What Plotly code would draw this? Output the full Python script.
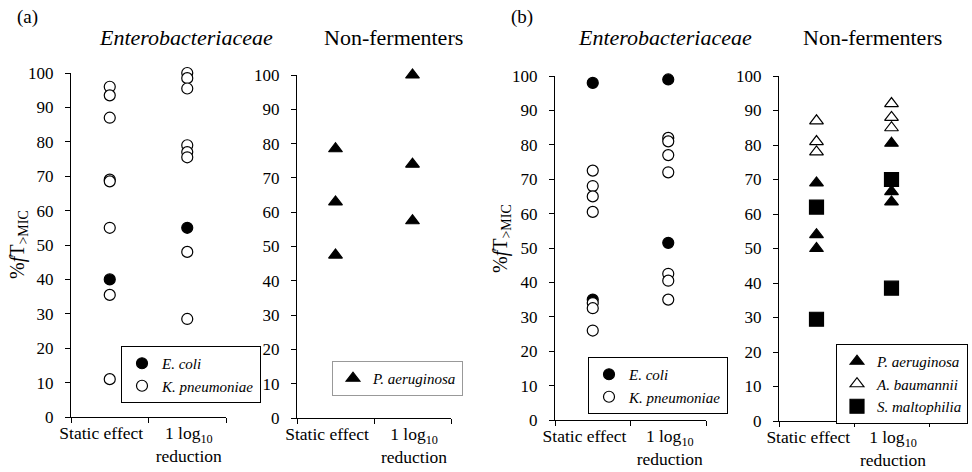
import plotly.graph_objects as go

categories = ["Static effect", "1 log<sub>10</sub><br>reduction"]
cat_pos = [0.5, 1.5]

# Panel (a) Enterobacteriaceae
a_ecoli_static = [40]
a_ecoli_1log = [55]
a_kpn_static = [96, 93.5, 87, 69, 68.5, 55, 35.5, 11]
a_kpn_1log = [100, 98.5, 95.5, 79, 77, 75.5, 48, 28.5]
# Panel (a) Non-fermenters
a_pae_static = [78.5, 63, 47.5]
a_pae_1log = [100, 74, 57.5]
# Panel (b) Enterobacteriaceae
b_ecoli_static = [98, 35]
b_ecoli_1log = [99, 51.5]
b_kpn_static = [72.5, 68, 65, 60.5, 34, 32.5, 26]
b_kpn_1log = [82, 81, 77, 72, 42.5, 40.5, 35]
# Panel (b) Non-fermenters
b_pae_static = [69, 54, 50]
b_pae_1log = [80.5, 66.5, 63.5]
b_aba_static = [87, 81, 78]
b_aba_1log = [92, 88, 85]
b_sma_static = [62, 29.5]
b_sma_1log = [70, 38.5]

y_ticks = list(range(0, 101, 10))
FONT = "Liberation Serif"
label_pos = [0.39, 1.52]

fig = go.Figure()

def pts(static, onelog):
    return [cat_pos[0]] * len(static) + [cat_pos[1]] * len(onelog), static + onelog

def add(static, onelog, name, symbol, size, xa, ya, legend, filled=True):
    x, y = pts(static, onelog)
    fig.add_trace(go.Scatter(
        x=x, y=y, mode="markers", name=name, xaxis=xa, yaxis=ya, legend=legend,
        cliponaxis=False,
        marker=dict(symbol=symbol, size=size, color="black" if filled else "white",
                    line=dict(color="black", width=1.2)),
    ))

add(a_ecoli_static, a_ecoli_1log, "<i>E. coli</i>", "circle", 11, "x", "y", "legend")
add(a_kpn_static, a_kpn_1log, "<i>K. pneumoniae</i>", "circle", 11, "x", "y", "legend", filled=False)
add(a_pae_static, a_pae_1log, "<i>P. aeruginosa</i>", "triangle-up", 12, "x2", "y2", "legend2")
add(b_ecoli_static, b_ecoli_1log, "<i>E. coli</i>", "circle", 11, "x3", "y3", "legend3")
add(b_kpn_static, b_kpn_1log, "<i>K. pneumoniae</i>", "circle", 11, "x3", "y3", "legend3", filled=False)
add(b_pae_static, b_pae_1log, "<i>P. aeruginosa</i>", "triangle-up", 12, "x4", "y4", "legend4")
add(b_aba_static, b_aba_1log, "<i>A. baumannii</i>", "triangle-up", 12, "x4", "y4", "legend4", filled=False)
add(b_sma_static, b_sma_1log, "<i>S. maltophilia</i>", "square", 14, "x4", "y4", "legend4")

domains = [
    ((71, 226), (417, 73)),
    ((297, 451), (418, 75)),
    ((555, 706), (420, 76)),
    ((779, 929), (421, 76)),
]
W, H = 972, 472
layout = dict(
    template="none",
    width=W, height=H, margin=dict(l=0, r=0, t=0, b=0, pad=0, autoexpand=False),
    paper_bgcolor="white", plot_bgcolor="white",
    font=dict(family=FONT, color="black", size=16),
)
for i, ((x0, x1), (yb, yt)) in enumerate(domains):
    sfx = "" if i == 0 else str(i + 1)
    layout["xaxis" + sfx] = dict(
        domain=[x0 / W, x1 / W], range=[0, 2], anchor="y" + sfx, automargin=False,
        showgrid=False, zeroline=False, showline=True, linecolor="black", linewidth=1,
        tickvals=label_pos, ticktext=categories, ticks="", tickangle=0,
        ticklabelstandoff=0,
        tickfont=dict(size=17.5, family=FONT, color="black"),
        minor=dict(tickvals=[0, 1, 2], ticks="outside", ticklen=5, tickcolor="black",
                   showgrid=False),
        fixedrange=True,
    )
    layout["yaxis" + sfx] = dict(
        domain=[(H - yb) / H, (H - yt) / H], range=[0, 100], anchor="x" + sfx,
        automargin=False,
        showgrid=False, zeroline=False, showline=True, linecolor="black", linewidth=1,
        tickvals=y_ticks, ticks="outside", ticklen=5, tickcolor="black",
        ticklabelstandoff=8,
        tickfont=dict(size=17, family=FONT, color="black"), fixedrange=True,
    )

leg_common = dict(bgcolor="white", borderwidth=1, font=dict(size=15, family=FONT, color="black"),
                  xanchor="left", yanchor="top", itemwidth=30, tracegroupgap=0)
layout["legend"] = dict(x=121 / W, y=(H - 346) / H, bordercolor="black", **leg_common)
layout["legend2"] = dict(x=332 / W, y=(H - 361) / H, bordercolor="#999999", **leg_common)
layout["legend3"] = dict(x=588 / W, y=(H - 357) / H, bordercolor="black", **leg_common)
layout["legend4"] = dict(x=836 / W, y=(H - 344) / H, bordercolor="black", **leg_common)

ann = []
def text(x, y, s, size=19, angle=0):
    ann.append(dict(x=x / W, y=(H - y) / H, xref="paper", yref="paper", text=s,
                    showarrow=False, font=dict(size=size, family=FONT, color="black"),
                    textangle=angle, xanchor="center", yanchor="middle"))

text(27, 17, "(a)", 19)
text(522, 17, "(b)", 19)
text(186, 37, "<i>Enterobacteriaceae</i>", 22)
text(393, 37, "Non-fermenters", 22)
text(665, 37, "<i>Enterobacteriaceae</i>", 22)
text(872, 37, "Non-fermenters", 22)
text(18, 245, "%<i>f</i>T<sub>>MIC</sub>", 20, -90)
text(501, 238, "%<i>f</i>T<sub>>MIC</sub>", 20, -90)
layout["annotations"] = ann

fig.update_layout(**layout)
fig.write_html("out.html")
